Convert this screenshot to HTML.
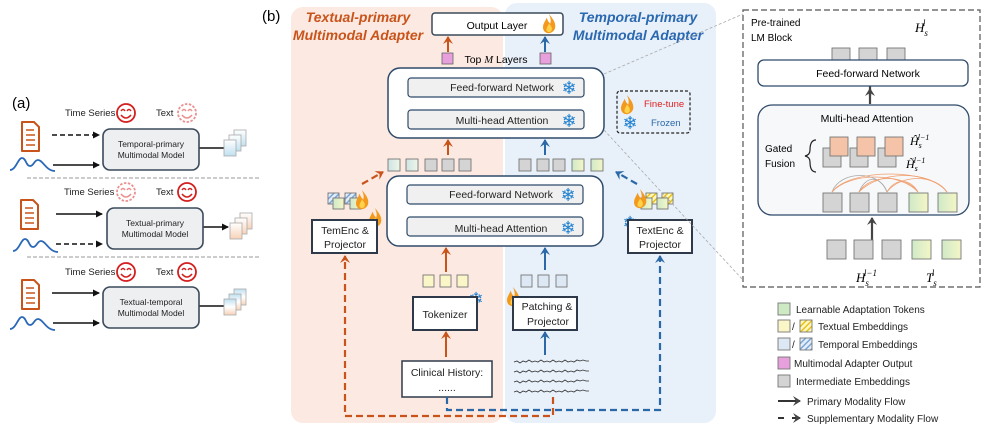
<!DOCTYPE html>
<html><head><meta charset="utf-8"><style>
body{margin:0;background:#fff}
svg{display:block;font-family:"Liberation Sans",sans-serif}
</style></head><body>
<svg width="987" height="427" viewBox="0 0 987 427" xmlns="http://www.w3.org/2000/svg">
<defs>
<marker id="ak" markerWidth="8" markerHeight="8" refX="6" refY="4" orient="auto" markerUnits="userSpaceOnUse"><path d="M0,0.5 L7,4 L0,7.5z" fill="#111"/></marker>
<marker id="ao" markerWidth="10" markerHeight="10" refX="7" refY="5" orient="auto" markerUnits="userSpaceOnUse"><path d="M0,0 L8,5 L0,10 L3,5z" fill="#c8541b"/></marker>
<marker id="ab" markerWidth="10" markerHeight="10" refX="7" refY="5" orient="auto" markerUnits="userSpaceOnUse"><path d="M0,0 L8,5 L0,10 L3,5z" fill="#2a68a8"/></marker>
<marker id="ag" markerWidth="10" markerHeight="10" refX="7" refY="5" orient="auto" markerUnits="userSpaceOnUse"><path d="M0,0 L8,5 L0,10 L3,5z" fill="#444"/></marker>
<g id="fire"><g transform="scale(1.2)"><path d="M5,0 C9,5 11,8 10,12 C9,15 6,16 5,16 C2,16 0,14 0,11 C0,8 2,6 3,3 C4,6 5,7 6,8 C7,5 6,3 5,0z" fill="#f39a1e"/><path d="M5,8 C7,10 8,12 7,14 C6,15.5 4,15.5 3,14 C2.5,12 4,10 5,8z" fill="#ffd24a"/></g></g>
<g id="smile"><circle r="9" fill="none" stroke="#d41f1f" stroke-width="1.8"/><path d="M-5,-2 q2,-3 4,0 M1,-2 q2,-3 4,0" fill="none" stroke="#d41f1f" stroke-width="1.4"/><path d="M-5,2 q5,6 10,0" fill="none" stroke="#d41f1f" stroke-width="1.6"/></g>
<g id="smiled"><circle r="9" fill="none" stroke="#ec9090" stroke-width="1.8" stroke-dasharray="2.5 1.5"/><path d="M-5,-2 q2,-3 4,0 M1,-2 q2,-3 4,0" fill="none" stroke="#ec9090" stroke-width="1.4"/><path d="M-5,2 q5,6 10,0" fill="none" stroke="#ec9090" stroke-width="1.6"/></g>
<g id="doc"><path d="M1,0 L13,0 L18,5 L18,29 L1,29z" fill="none" stroke="#c8541b" stroke-width="2" stroke-linejoin="round"/><path d="M5,8 h8 M5,13 h9 M5,18 h9 M5,23 h9" stroke="#c8541b" stroke-width="1.6"/></g>
<path id="wave" d="M0,14 C6,14 8,2 12,2 C16,2 16,10 20,10 C24,10 24,4 28,4 C33,4 36,15 45,15" fill="none" stroke="#2a68b8" stroke-width="1.8"/>
<linearGradient id="gb" x1="0" y1="0" x2="0" y2="1"><stop offset="0" stop-color="#fff"/><stop offset="1" stop-color="#bfe0f0"/></linearGradient>
<linearGradient id="go" x1="0" y1="0" x2="0" y2="1"><stop offset="0" stop-color="#fff"/><stop offset="1" stop-color="#f7d2b8"/></linearGradient>
<linearGradient id="gm" x1="0" y1="0" x2="0" y2="1"><stop offset="0" stop-color="#bfe0f0"/><stop offset="0.5" stop-color="#fff"/><stop offset="1" stop-color="#f7d2b8"/></linearGradient>
<linearGradient id="gg" x1="0" y1="0" x2="1" y2="0"><stop offset="0" stop-color="#cfe9c8"/><stop offset="1" stop-color="#f4f6c6"/></linearGradient>
<linearGradient id="gt" x1="0" y1="0" x2="1" y2="0"><stop offset="0" stop-color="#cfe3e4"/><stop offset="1" stop-color="#eef6e8"/></linearGradient>
<pattern id="hy" width="4" height="4" patternUnits="userSpaceOnUse" patternTransform="rotate(45)"><rect width="4" height="4" fill="#fff7c0"/><rect width="1.5" height="4" fill="#e8c21c"/></pattern>
<pattern id="hb" width="4" height="4" patternUnits="userSpaceOnUse" patternTransform="rotate(45)"><rect width="4" height="4" fill="#e4eefa"/><rect width="1.5" height="4" fill="#7aa6d6"/></pattern>
</defs>

<!-- (a) -->
<text x="12" y="108" font-size="15">(a)</text>
<g font-size="9.5" fill="#222">
<text x="65" y="116">Time Series</text><text x="156" y="116">Text</text>
<text x="64" y="195">Time Series</text><text x="156" y="195">Text</text>
<text x="65" y="275">Time Series</text><text x="156" y="275">Text</text>
</g>
<use href="#smile" x="126" y="113"/><use href="#smiled" x="187" y="113"/>
<use href="#smiled" x="126" y="192"/><use href="#smile" x="187" y="192"/>
<use href="#smile" x="126" y="272"/><use href="#smile" x="187" y="272"/>
<use href="#doc" x="21" y="122"/><use href="#wave" x="10" y="156"/>
<use href="#doc" x="20" y="200"/><use href="#wave" x="13" y="237"/>
<use href="#doc" x="21" y="280"/><use href="#wave" x="10" y="315"/>
<g stroke="#111" stroke-width="1.4" fill="none" marker-end="url(#ak)">
<path d="M52,135 H99" stroke-dasharray="5 3"/><path d="M53,165 H99"/>
<path d="M56,214 H102"/><path d="M56,244 H102" stroke-dasharray="5 3"/>
<path d="M52,293 H99"/><path d="M53,323 H99"/>
<path d="M199,148 H231"/><path d="M203,227 H228"/><path d="M199,306 H231"/>
</g>
<g fill="#eeeff1" stroke="#3a4a5a" stroke-width="1.6">
<rect x="103" y="129" width="96" height="41" rx="7"/>
<rect x="107" y="208" width="96" height="41" rx="7"/>
<rect x="103" y="287" width="96" height="41" rx="7"/>
</g>
<g font-size="8.5" text-anchor="middle" fill="#222">
<text x="151" y="147">Temporal-primary</text><text x="151" y="158">Multimodal Model</text>
<text x="155" y="226">Textual-primary</text><text x="155" y="237">Multimodal Model</text>
<text x="151" y="305">Textual-temporal</text><text x="151" y="316">Multimodal Model</text>
</g>
<g stroke="#aaa" stroke-width="0.8">
<rect x="234" y="130" width="12" height="16" fill="url(#gb)"/><rect x="229" y="135" width="12" height="16" fill="url(#gb)"/><rect x="224" y="140" width="12" height="16" fill="url(#gb)"/>
<rect x="240" y="213" width="12" height="16" fill="url(#go)"/><rect x="235" y="218" width="12" height="16" fill="url(#go)"/><rect x="230" y="223" width="12" height="16" fill="url(#go)"/>
<rect x="234" y="289" width="12" height="16" fill="url(#gm)"/><rect x="229" y="294" width="12" height="16" fill="url(#gm)"/><rect x="224" y="299" width="12" height="16" fill="url(#gm)"/>
</g>
<g stroke="#999" stroke-width="1" stroke-dasharray="4 2"><path d="M27,178 H260"/><path d="M27,257 H260"/></g>

<!-- (b) -->
<text x="262" y="21" font-size="15">(b)</text>
<rect x="291" y="7" width="212" height="416" rx="12" fill="#fce9e1"/>
<rect x="505" y="3" width="211" height="420" rx="12" fill="#e8f0fa"/>
<g font-size="14" font-weight="bold" font-style="italic" text-anchor="middle">
<text x="358" y="22" fill="#c8541b">Textual-primary</text><text x="358" y="40" fill="#c8541b">Multimodal Adapter</text>
<text x="638" y="22" fill="#2a68b0">Temporal-primary</text><text x="638" y="40" fill="#2a68b0">Multimodal Adapter</text>
</g>
<rect x="432" y="13" width="131" height="22" rx="3" fill="#fff" stroke="#3a4a5a" stroke-width="1.5"/>
<text x="497" y="29" font-size="10.5" text-anchor="middle">Output Layer</text>
<use href="#fire" x="543" y="14"/>
<rect x="442" y="53" width="11" height="11" fill="#e7a0dc" stroke="#666" stroke-width="0.8"/>
<rect x="540" y="53" width="11" height="11" fill="#e7a0dc" stroke="#666" stroke-width="0.8"/>
<text x="496" y="63" font-size="10.5" text-anchor="middle">Top <tspan font-style="italic" font-family="Liberation Serif">M</tspan> Layers</text>
<g stroke-width="2" fill="none">
<path d="M448,52 V37" stroke="#c8541b" marker-end="url(#ao)"/>
<path d="M545,52 V37" stroke="#2a68a8" marker-end="url(#ab)"/>
<path d="M448,155 V140" stroke="#c8541b" marker-end="url(#ao)"/>
<path d="M545,155 V140" stroke="#2a68a8" marker-end="url(#ab)"/>
<path d="M446,272 V248" stroke="#c8541b" marker-end="url(#ao)"/>
<path d="M545,270 V248" stroke="#2a68a8" marker-end="url(#ab)"/>
<path d="M446,357 V332" stroke="#c8541b" marker-end="url(#ao)"/>
<path d="M545,355 V332" stroke="#2a68a8" marker-end="url(#ab)"/>
</g>
<rect x="388" y="68" width="216" height="70" rx="12" fill="#fff" stroke="#2e4a6a" stroke-width="1.5"/>
<rect x="408" y="78" width="176" height="19" rx="3" fill="#f0f0f0" stroke="#2e4a6a" stroke-width="1.2"/>
<rect x="408" y="110" width="176" height="19" rx="3" fill="#f0f0f0" stroke="#2e4a6a" stroke-width="1.2"/>
<rect x="387" y="176" width="216" height="70" rx="12" fill="#fff" stroke="#2e4a6a" stroke-width="1.5"/>
<rect x="407" y="185" width="176" height="19" rx="3" fill="#f0f0f0" stroke="#2e4a6a" stroke-width="1.2"/>
<rect x="407" y="217" width="176" height="19" rx="3" fill="#f0f0f0" stroke="#2e4a6a" stroke-width="1.2"/>
<g font-size="10.5" text-anchor="middle" fill="#222">
<text x="502" y="91">Feed-forward Network</text><text x="502" y="124">Multi-head Attention</text>
<text x="501" y="198">Feed-forward Network</text><text x="501" y="232">Multi-head Attention</text>
</g>
<g font-size="18" fill="#1e7fd0" font-family="DejaVu Sans" text-anchor="middle">
<text x="569" y="94">❄</text><text x="569" y="127">❄</text><text x="568" y="201">❄</text><text x="568" y="234">❄</text>
<text x="476" y="305">❄</text><text x="630" y="229">❄</text><text x="630" y="129">❄</text>
<text x="943" y="80">❄</text><text x="943" y="124">❄</text>
</g>
<rect x="617" y="91" width="73" height="42" rx="3" fill="none" stroke="#222" stroke-width="1.2" stroke-dasharray="3 2"/>
<use href="#fire" x="621" y="95"/>
<text x="644" y="107" font-size="9.5" fill="#e02020">Fine-tune</text>
<text x="651" y="126" font-size="9.5" fill="#2a68a8">Frozen</text>
<g stroke="#777" stroke-width="0.9">
<rect x="388" y="159" width="12" height="12" fill="url(#gt)"/><rect x="406" y="159" width="12" height="12" fill="url(#gt)"/>
<rect x="425" y="159" width="12" height="12" fill="#d4d4d4"/><rect x="442" y="159" width="12" height="12" fill="#d4d4d4"/><rect x="459" y="159" width="12" height="12" fill="#d4d4d4"/>
<rect x="519" y="159" width="12" height="12" fill="#d4d4d4"/><rect x="537" y="159" width="12" height="12" fill="#d4d4d4"/><rect x="553" y="159" width="12" height="12" fill="#d4d4d4"/>
<rect x="572" y="159" width="12" height="12" fill="url(#gg)"/><rect x="591" y="159" width="12" height="12" fill="url(#gg)"/>
<rect x="423" y="275" width="11" height="12" fill="#fbf6c8"/><rect x="440" y="275" width="11" height="12" fill="#fbf6c8"/><rect x="457" y="275" width="11" height="12" fill="#fbf6c8"/>
<rect x="521" y="275" width="11" height="12" fill="#dde8f4"/><rect x="538" y="275" width="11" height="12" fill="#dde8f4"/><rect x="556" y="275" width="11" height="12" fill="#dde8f4"/>
<rect x="328" y="193" width="11" height="11" fill="url(#hb)"/><rect x="333" y="198" width="11" height="11" fill="url(#gg)"/>
<rect x="345" y="193" width="11" height="11" fill="url(#hb)"/><rect x="350" y="198" width="11" height="11" fill="url(#gg)"/>
<rect x="646" y="193" width="11" height="11" fill="url(#hy)"/><rect x="641" y="198" width="11" height="11" fill="url(#gg)"/>
<rect x="662" y="193" width="11" height="11" fill="url(#hy)"/><rect x="657" y="198" width="11" height="11" fill="url(#gg)"/>
</g>
<use href="#fire" x="356" y="190"/><use href="#fire" x="369" y="208"/><use href="#fire" x="634" y="189"/><use href="#fire" x="507" y="287"/>
<g fill="#fff" stroke="#2e3a4a" stroke-width="2">
<rect x="312" y="220" width="65" height="33"/><rect x="628" y="220" width="64" height="33"/>
<rect x="413" y="297" width="64" height="33"/><rect x="513" y="297" width="64" height="33"/>
<rect x="402" y="361" width="90" height="36" stroke-width="1.5"/>
</g>
<g font-size="10.5" text-anchor="middle" fill="#222">
<text x="345" y="234">TemEnc &amp;</text><text x="345" y="248">Projector</text>
<text x="660" y="234">TextEnc &amp;</text><text x="660" y="248">Projector</text>
<text x="445" y="318">Tokenizer</text>
<text x="547" y="310">Patching &amp;</text><text x="548" y="325">Projector</text>
<text x="447" y="376">Clinical History:</text><text x="447" y="391">......</text>
</g>
<g stroke="#333" stroke-width="0.8" fill="none">
<path d="M514,362 l3,-1 3,2 3,-2 3,1 3,-2 3,2 3,-1 3,1 3,-2 3,2 3,-1 3,1 3,-2 3,2 3,-1 3,1 3,-2 3,2 3,-1 3,1 3,-2 3,1 3,-1 3,1 3,0"/>
<path d="M514,372 l3,-1 3,2 3,-2 3,1 3,-2 3,2 3,-1 3,1 3,-2 3,2 3,-1 3,1 3,-2 3,2 3,-1 3,1 3,-2 3,2 3,-1 3,1 3,-2 3,1 3,-1 3,1 3,0"/>
<path d="M514,382 l3,-1 3,2 3,-2 3,1 3,-2 3,2 3,-1 3,1 3,-2 3,2 3,-1 3,1 3,-2 3,2 3,-1 3,1 3,-2 3,2 3,-1 3,1 3,-2 3,1 3,-1 3,1 3,0"/>
<path d="M514,392 l3,-1 3,2 3,-2 3,1 3,-2 3,2 3,-1 3,1 3,-2 3,2 3,-1 3,1 3,-2 3,2 3,-1 3,1 3,-2 3,2 3,-1 3,1 3,-2 3,1 3,-1 3,1 3,0"/>
</g>
<g stroke-width="2.2" fill="none" stroke-dasharray="7 4">
<path d="M553,397 V416 H345 V256" stroke="#c8541b" marker-end="url(#ao)"/>
<path d="M447,397 V410 H660 V256" stroke="#2a68a8" marker-end="url(#ab)"/>
<path d="M362,184 L383,172" stroke="#c8541b" marker-end="url(#ao)"/>
<path d="M637,184 L616,172" stroke="#2a68a8" marker-end="url(#ab)"/>
</g>
<g stroke="#aaa" stroke-width="0.8" stroke-dasharray="3 2"><path d="M604,74 L743,14"/><path d="M604,130 L743,280"/></g>

<rect x="743" y="10" width="237" height="277" fill="none" stroke="#555" stroke-width="1.2" stroke-dasharray="6 3"/>
<text x="751" y="26" font-size="10">Pre-trained</text><text x="751" y="41" font-size="10">LM Block</text>
<g fill="#d4d4d4" stroke="#777" stroke-width="0.9">
<rect x="832" y="48" width="18" height="18"/><rect x="859" y="48" width="18" height="18"/><rect x="887" y="48" width="18" height="18"/>
</g>
<text x="915" y="32" font-size="13" font-style="italic" font-family="Liberation Serif">H<tspan font-size="9" dy="4">s</tspan><tspan font-size="9" dx="-5" dy="-10">l</tspan></text>
<g stroke="#444" stroke-width="2.2" fill="none">
<path d="M870,96 V70" marker-end="url(#ag)"/><path d="M870,104 V89" marker-end="url(#ag)"/><path d="M872,240 V218" marker-end="url(#ag)"/>
</g>
<rect x="758" y="60" width="210" height="26" rx="6" fill="#fff" stroke="#2e4a6a" stroke-width="1.3"/>
<text x="868" y="77" font-size="10.5" text-anchor="middle">Feed-forward Network</text>
<rect x="758" y="105" width="211" height="110" rx="14" fill="#f7f8fa" stroke="#2e4a6a" stroke-width="1.3"/>
<text x="867" y="122" font-size="10.5" text-anchor="middle">Multi-head Attention</text>
<text x="765" y="152" font-size="10">Gated</text><text x="765" y="167" font-size="10">Fusion</text>
<path d="M816,140 q-6,0 -6,10 q0,5 -5,6 q5,1 5,6 q0,10 6,10" fill="none" stroke="#222" stroke-width="1.2"/>
<g stroke="#777" stroke-width="0.9">
<rect x="823" y="148" width="18" height="19" fill="#d4d4d4"/><rect x="850" y="148" width="18" height="19" fill="#d4d4d4"/><rect x="878" y="148" width="18" height="19" fill="#d4d4d4"/>
<rect x="830" y="137" width="18" height="19" fill="#f5c3a8"/><rect x="857" y="137" width="18" height="19" fill="#f5c3a8"/><rect x="885" y="137" width="18" height="19" fill="#f5c3a8"/>
</g>
<text x="910" y="145" font-size="12" font-style="italic" font-family="Liberation Serif">Ĥ<tspan font-size="8" dy="3">s</tspan><tspan font-size="8" dx="-4" dy="-8">l−1</tspan></text>
<text x="906" y="168" font-size="12" font-style="italic" font-family="Liberation Serif">H̃<tspan font-size="8" dy="3">s</tspan><tspan font-size="8" dx="-4" dy="-8">l−1</tspan></text>
<g fill="none" stroke-width="0.8">
<path d="M832,192 C840,170 880,170 887,192" stroke="#aaa"/><path d="M859,192 C866,175 880,175 887,192" stroke="#aaa"/>
<path d="M832,192 C850,172 900,172 918,192" stroke="#f0a070"/><path d="M832,192 C850,168 930,168 947,192" stroke="#f0a070"/>
<path d="M859,192 C870,174 905,174 918,192" stroke="#f0a070"/><path d="M859,192 C880,170 930,170 947,192" stroke="#f0a070"/>
<path d="M887,192 C895,178 910,178 918,192" stroke="#f0a070"/><path d="M887,192 C900,174 935,174 947,192" stroke="#f0a070"/>
</g>
<g stroke="#777" stroke-width="0.9">
<rect x="823" y="193" width="19" height="19" fill="#d4d4d4"/><rect x="850" y="193" width="19" height="19" fill="#d4d4d4"/><rect x="878" y="193" width="19" height="19" fill="#d4d4d4"/>
<rect x="909" y="193" width="19" height="19" fill="url(#gg)"/><rect x="938" y="193" width="19" height="19" fill="url(#gg)"/>
<rect x="827" y="240" width="19" height="19" fill="#d4d4d4"/><rect x="854" y="240" width="19" height="19" fill="#d4d4d4"/><rect x="882" y="240" width="19" height="19" fill="#d4d4d4"/>
<rect x="912" y="240" width="19" height="19" fill="url(#gg)"/><rect x="942" y="240" width="19" height="19" fill="url(#gg)"/>
</g>
<text x="856" y="282" font-size="13" font-style="italic" font-family="Liberation Serif">H<tspan font-size="9" dy="4">s</tspan><tspan font-size="9" dx="-5" dy="-10">l−1</tspan></text>
<text x="926" y="282" font-size="13" font-style="italic" font-family="Liberation Serif">T<tspan font-size="9" dy="4">s</tspan><tspan font-size="9" dx="-5" dy="-10">l</tspan></text>
<g stroke="#777" stroke-width="0.9">
<rect x="778" y="303" width="12" height="12" fill="#cdeac4"/>
<rect x="778" y="320" width="12" height="12" fill="#fbf6c8"/><rect x="800" y="320" width="12" height="12" fill="url(#hy)"/>
<rect x="778" y="338" width="12" height="12" fill="#dde8f4"/><rect x="800" y="338" width="12" height="12" fill="url(#hb)"/>
<rect x="778" y="357" width="12" height="12" fill="#e7a0dc"/>
<rect x="778" y="375" width="12" height="12" fill="#d4d4d4"/>
</g>
<g font-size="10" fill="#222">
<text x="796" y="313">Learnable Adaptation Tokens</text>
<text x="792" y="330">/</text><text x="818" y="330">Textual Embeddings</text>
<text x="792" y="348">/</text><text x="818" y="348">Temporal Embeddings</text>
<text x="794" y="367">Multimodal Adapter Output</text>
<text x="796" y="385">Intermediate Embeddings</text>
<text x="807" y="405">Primary Modality Flow</text>
<text x="807" y="422">Supplementary Modality Flow</text>
</g>
<path d="M778,401 H800" stroke="#333" stroke-width="2" marker-end="url(#ag)"/>
<path d="M778,418 H784 M792,418 H800" stroke="#333" stroke-width="2" marker-end="url(#ag)"/>
</svg>
</body></html>
